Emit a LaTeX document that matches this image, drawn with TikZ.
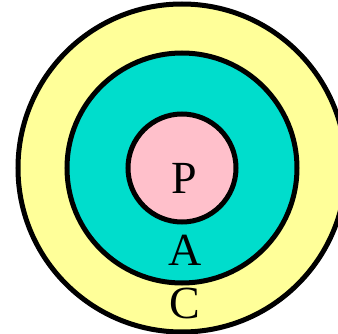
\documentclass[tikz,border=0pt]{standalone}
\usepackage{fontspec}
\setmainfont{Liberation Serif}
\usepackage{xcolor}
\definecolor{ringC}{RGB}{255,255,153}
\definecolor{ringA}{RGB}{0,221,204}
\definecolor{coreP}{RGB}{255,192,203}
\begin{document}
\begin{tikzpicture}[x=1pt,y=1pt,
    ring/.style={circle, draw, line width=5pt, inner sep=0pt},
    lbl/.style={anchor=base, font=\fontsize{46}{50}\selectfont}]
    \useasboundingbox (0,0) rectangle (338,333);
    \node[ring, fill=ringC, minimum size=328pt] (C) at (182,165) {};
    \node[ring, fill=ringA, minimum size=230pt] (A) at (182,165) {};
    \node[ring, fill=coreP, minimum size=108pt] (P) at (182,165) {};
    \node[lbl] (labP) at (184.5,140) {P};
    \node[lbl] (labA) at (185,68) {A};
    \node[lbl] (labC) at (185,15) {C};
\end{tikzpicture}
\end{document}
